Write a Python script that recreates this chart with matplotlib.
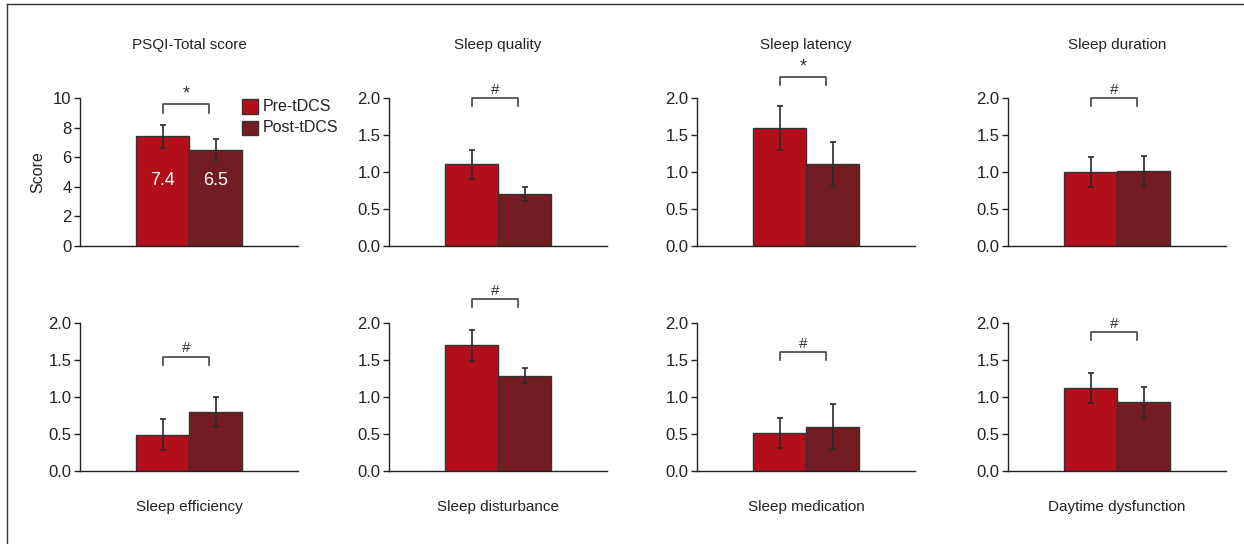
import matplotlib.pyplot as plt
from matplotlib.lines import Line2D
from matplotlib.patches import Rectangle

# ---- data ----
titles = [
    "PSQI-Total score", "Sleep quality", "Sleep latency", "Sleep duration",
    "Sleep efficiency", "Sleep disturbance", "Sleep medication", "Daytime dysfunction",
]
pre_means = [7.4, 1.1, 1.6, 1.0, 0.49, 1.7, 0.51, 1.12]
pre_errs = [0.8, 0.2, 0.3, 0.2, 0.21, 0.21, 0.2, 0.2]
post_means = [6.5, 0.7, 1.11, 1.01, 0.8, 1.29, 0.6, 0.93]
post_errs = [0.7, 0.09, 0.3, 0.2, 0.2, 0.1, 0.3, 0.21]
sig_marks = ["*", "#", "*", "#", "#", "#", "#", "#"]
sig_heights = [9.6, 2.0, 2.29, 2.0, 1.55, 2.33, 1.61, 1.88]
groups = ["Pre-tDCS", "Post-tDCS"]
total_ticks = [0, 2, 4, 6, 8, 10]
sub_ticks = [0.0, 0.5, 1.0, 1.5, 2.0]

PRE_COLOR = "#b20f1a"
POST_COLOR = "#731d22"
EDGE = "#333333"
W, H = 1244, 544

plt.rcParams["font.family"] = ["Liberation Sans", "DejaVu Sans"]

fig = plt.figure(figsize=(12.44, 5.44), dpi=100)

col_left = [80, 389, 697, 1008]
row_zero = [245.5, 470.7]
ax_w, ax_h = 218, 147.3

for i, title in enumerate(titles):
    r, c = divmod(i, 4)
    ax = fig.add_axes([
        col_left[c] / W,
        1 - row_zero[r] / H,
        ax_w / W,
        ax_h / H,
    ])

    ax.bar(
        [0, 1],
        [pre_means[i], post_means[i]],
        width=1.0,
        color=[PRE_COLOR, POST_COLOR],
        edgecolor=EDGE,
        linewidth=1.0,
        zorder=2,
    )
    ax.errorbar(
        [0, 1],
        [pre_means[i], post_means[i]],
        yerr=[pre_errs[i], post_errs[i]],
        fmt="none",
        ecolor="#2a2a2a",
        elinewidth=1.2,
        capsize=2.5,
        capthick=1.2,
        zorder=3,
    )

    top = 10 if i == 0 else 2.0
    ax.set_xlim(-1.557, 2.556)
    ax.set_ylim(0, top)
    ax.set_yticks(total_ticks if i == 0 else sub_ticks)
    if i != 0:
        ax.set_yticklabels([f"{t:.1f}" for t in sub_ticks])
    ax.set_xticks([])

    for side in ["top", "right"]:
        ax.spines[side].set_visible(False)
    for side in ["left", "bottom"]:
        ax.spines[side].set_color("#222222")
        ax.spines[side].set_linewidth(1.0)
    ax.tick_params(axis="y", length=4, width=1.0, color="#222222",
                   labelsize=12, labelcolor="#222222", pad=2)

    # significance bracket
    h = sig_heights[i]
    drop = 0.6 if i == 0 else 0.11
    ax.plot(
        [0, 0, 0.88, 0.88],
        [h - drop, h, h, h - drop],
        color="#444444",
        linewidth=1.2,
        clip_on=False,
    )
    ax.text(
        0.44, h + (0.1 if i == 0 else 0.02), sig_marks[i],
        ha="center", va="bottom",
        fontsize=13 if sig_marks[i] == "*" else 11,
        color="#333333",
    )

    title_y = 1.361 if r == 0 else -0.246
    ax.text(
        0.5, title_y, title,
        transform=ax.transAxes,
        ha="center", va="center",
        fontsize=11, color="#222222",
    )

    if i == 0:
        ax.set_ylabel("Score", fontsize=11.5, color="#222222", labelpad=6)
        for x, v in zip([0, 1], [pre_means[i], post_means[i]]):
            ax.text(x, 4.4, f"{v:.1f}", ha="center", va="center",
                    fontsize=13, color="white", zorder=4)

        # legend
        for k, (name, col) in enumerate(zip(groups, [PRE_COLOR, POST_COLOR])):
            y0 = 8.95 - k * 1.45
            ax.add_patch(Rectangle(
                (1.5, y0), 0.3, 0.98,
                facecolor=col, edgecolor=EDGE, linewidth=1.0,
                clip_on=False, zorder=3,
            ))
            ax.text(1.9, y0 + 0.49, name, ha="left", va="center",
                    fontsize=11.5, color="#222222")

# frame lines on top and left edge
fig.add_artist(Line2D([7.5 / W, 7.5 / W], [0, 1 - 4 / H],
                      color="#333333", linewidth=1.0))
fig.add_artist(Line2D([7.5 / W, 1], [1 - 4 / H, 1 - 4 / H],
                      color="#333333", linewidth=1.0))

fig.savefig("out.png", dpi=100)
